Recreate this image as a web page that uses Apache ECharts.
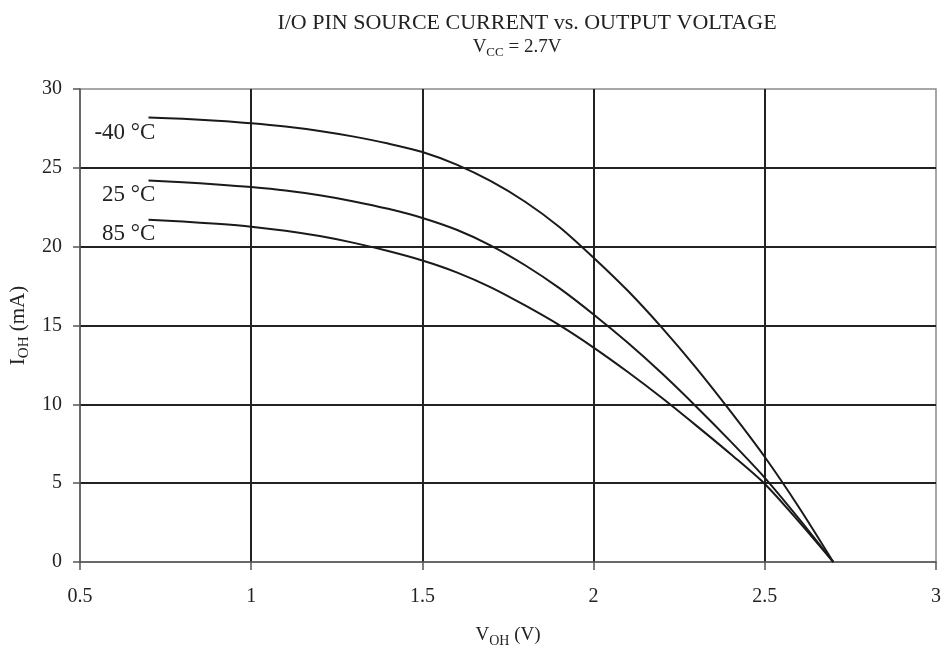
<!DOCTYPE html>
<html>
<head>
<meta charset="utf-8">
<script src="https://cdn.jsdelivr.net/npm/echarts@6/dist/echarts.min.js"></script>
<style>
  html, body { margin: 0; padding: 0; background: #fff; }
  #chart { width: 944px; height: 653px; }
</style>
</head>
<body>
<div id="chart"></div>
<script>
// Output voltage V_OH (V) sample points
const voltages = [0.7, 0.8, 0.9, 1.0, 1.1, 1.2, 1.3, 1.4, 1.5, 1.6, 1.7,
                  1.8, 1.9, 2.0, 2.1, 2.2, 2.3, 2.4, 2.5, 2.6, 2.7];

// Source current I_OH (mA) per temperature
const currentMinus40 = [28.2, 28.11, 27.99, 27.83, 27.62, 27.34, 26.98, 26.54, 26.0, 25.2, 24.15,
                        22.85, 21.25, 19.3, 17.2, 14.85, 12.3, 9.55, 6.66, 3.46, 0];
const current25 = [24.2, 24.09, 23.95, 23.78, 23.56, 23.26, 22.87, 22.4, 21.82, 21.07, 20.07,
                   18.82, 17.37, 15.7, 13.9, 11.95, 9.85, 7.65, 5.34, 2.74, 0];
const current85 = [21.7, 21.59, 21.45, 21.27, 21.01, 20.67, 20.24, 19.72, 19.12, 18.37, 17.42,
                   16.27, 15.02, 13.6, 12.05, 10.4, 8.65, 6.85, 4.95, 2.55, 0];

const curveNames = ['-40 °C', '25 °C', '85 °C'];
const xTicks = [0.5, 1, 1.5, 2, 2.5, 3];
const yTicks = [0, 5, 10, 15, 20, 25, 30];

const FONT = '"Liberation Serif", "Times New Roman", serif';

function pairs(ys) {
  return voltages.map((v, i) => [v, ys[i]]);
}

// Curve label anchors (right edge of each label, in axis units)
const labelAnchors = [[0.72, 27.2], [0.72, 23.3], [0.72, 20.8]];

// Rich-text styles for a main run plus a subscript run
function subRich(main, sub, drop) {
  return {
    m: { fontFamily: FONT, fontSize: main, fontWeight: 'normal', color: '#222', lineHeight: main, verticalAlign: 'top' },
    s: { fontFamily: FONT, fontSize: sub, fontWeight: 'normal', color: '#222', lineHeight: sub, verticalAlign: 'top', padding: [drop, 0, 0, 0] }
  };
}

function curve(name, ys, anchor) {
  return {
    name: name,
    type: 'line',
    data: pairs(ys),
    showSymbol: false,
    smooth: 0.3,
    lineStyle: { color: '#1a1a1a', width: 2 },
    itemStyle: { color: '#1a1a1a' },
    z: 5,
    markPoint: {
      symbol: 'circle',
      symbolSize: 0,
      silent: true,
      data: [{ coord: anchor, value: name }],
      label: {
        show: true,
        position: 'left',
        distance: 0,
        formatter: name,
        color: '#222',
        fontFamily: FONT,
        fontSize: 23
      }
    }
  };
}

const chart = echarts.init(document.getElementById('chart'), null, { renderer: 'canvas' });

chart.setOption({
  animation: false,
  backgroundColor: '#ffffff',
  title: [
    {
      text: 'I/O PIN SOURCE CURRENT vs. OUTPUT VOLTAGE',
      left: 522,
      top: 7,
      textAlign: 'center',
      textStyle: { fontFamily: FONT, fontSize: 22, fontWeight: 'normal', color: '#222' }
    },
    {
      text: '{m|V}{s|CC}{m| = 2.7V}',
      left: 512,
      top: 33,
      textAlign: 'center',
      textStyle: { fontWeight: 'normal', rich: subRich(19, 13, 8) }
    }
  ],
  grid: {
    left: 80,
    right: 7,
    top: 89,
    bottom: 88,
    show: true,
    borderColor: '#8a8a8a',
    borderWidth: 1.5
  },
  xAxis: {
    type: 'value',
    min: xTicks[0],
    max: xTicks[xTicks.length - 1],
    interval: 0.5,
    name: '{m|V}{s|OH}{m| (V)}',
    nameLocation: 'middle',
    nameGap: 64,
    nameTextStyle: { rich: subRich(19, 14, 8) },
    axisLine: { show: true, lineStyle: { color: '#555', width: 1.5 } },
    axisTick: { show: true, inside: false, length: 8, lineStyle: { color: '#555', width: 1.5 } },
    axisLabel: {
      margin: 25,
      fontFamily: FONT,
      fontSize: 20,
      color: '#222',
      formatter: v => String(v)
    },
    splitLine: {
      show: true,
      showMinLine: false,
      showMaxLine: false,
      lineStyle: { color: '#222', width: 2 }
    }
  },
  yAxis: {
    type: 'value',
    min: yTicks[0],
    max: yTicks[yTicks.length - 1],
    interval: 5,
    name: '{m|I}{s|OH}{m| (mA)}',
    nameLocation: 'middle',
    nameGap: 50,
    nameRotate: 90,
    nameTextStyle: { rich: subRich(21, 15, 8) },
    axisLine: { show: true, lineStyle: { color: '#555', width: 1.5 } },
    axisTick: { show: true, inside: false, length: 7, lineStyle: { color: '#555', width: 1.5 } },
    axisLabel: {
      margin: 18,
      fontFamily: FONT,
      fontSize: 20,
      color: '#222'
    },
    splitLine: {
      show: true,
      showMinLine: false,
      showMaxLine: false,
      lineStyle: { color: '#222', width: 2 }
    }
  },
  series: [
    curve(curveNames[0], currentMinus40, labelAnchors[0]),
    curve(curveNames[1], current25, labelAnchors[1]),
    curve(curveNames[2], current85, labelAnchors[2])
  ]
});
</script>
</body>
</html>
